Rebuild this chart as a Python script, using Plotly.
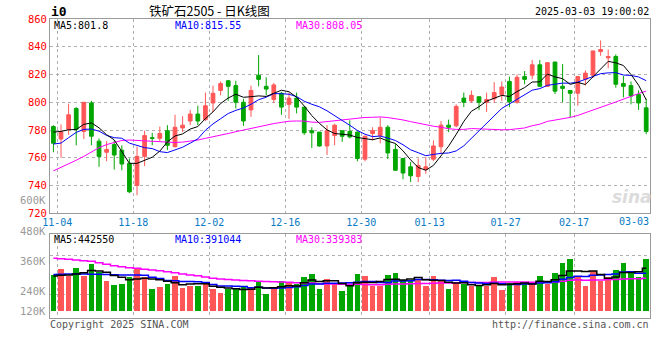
import plotly.graph_objects as go

# ---------------- data ----------------
dates = [
    "2024-11-04", "2024-11-05", "2024-11-06", "2024-11-07", "2024-11-08",
    "2024-11-11", "2024-11-12", "2024-11-13", "2024-11-14", "2024-11-15",
    "2024-11-18", "2024-11-19", "2024-11-20", "2024-11-21", "2024-11-22",
    "2024-11-25", "2024-11-26", "2024-11-27", "2024-11-28", "2024-11-29",
    "2024-12-02", "2024-12-03", "2024-12-04", "2024-12-05", "2024-12-06",
    "2024-12-09", "2024-12-10", "2024-12-11", "2024-12-12", "2024-12-13",
    "2024-12-16", "2024-12-17", "2024-12-18", "2024-12-19", "2024-12-20",
    "2024-12-23", "2024-12-24", "2024-12-25", "2024-12-26", "2024-12-27",
    "2024-12-30", "2024-12-31", "2025-01-02", "2025-01-03",
    "2025-01-06", "2025-01-07", "2025-01-08", "2025-01-09", "2025-01-10",
    "2025-01-13", "2025-01-14", "2025-01-15", "2025-01-16", "2025-01-17",
    "2025-01-20", "2025-01-21", "2025-01-22", "2025-01-23", "2025-01-24",
    "2025-01-27", "2025-02-05", "2025-02-06", "2025-02-07",
    "2025-02-10", "2025-02-11", "2025-02-12", "2025-02-13", "2025-02-14",
    "2025-02-17", "2025-02-18", "2025-02-19", "2025-02-20", "2025-02-21",
    "2025-02-24", "2025-02-25", "2025-02-26", "2025-02-27", "2025-02-28",
    "2025-03-03",
]

opens = [782.5, 773.5, 780.5, 795.5, 779, 799.5, 772, 764, 769.5, 765.5,
         756, 740, 761, 774.5, 774, 779.5, 768, 781.5, 786.5, 791.5,
         787.5, 799.5, 808.5, 815.5, 812, 800, 794.5, 819.5, 811.5, 802,
         806.5, 798.5, 803, 796.5, 779.5, 778.5, 768.5, 776, 779.5, 779,
         778.5, 759, 777.5, 776, 782, 766, 759.5, 753.5, 746.5, 751.5,
         759, 768, 783.5, 783, 803, 801, 804, 800, 802.5, 805.5,
         815, 800, 818.5, 819.5, 827, 811.5, 829, 811.5, 808.5, 806.5,
         816.5, 819.5, 836.5, 832, 833, 813.5, 812, 805.5, 796]
highs = [783.5, 784, 799, 796.5, 800, 801, 774, 772, 772.5, 769,
         759.5, 768, 779.5, 778, 782.5, 783.5, 791, 790, 794.5, 797.5,
         807, 812, 815, 816, 815.5, 802.5, 812, 834, 818, 814,
         807.5, 807, 807, 796.5, 782, 778.5, 783.5, 784.5, 779.5, 787,
         779, 776, 782, 789, 783.5, 770, 759.5, 757, 759.5, 760.5,
         772.5, 786.5, 787.5, 798.5, 807, 808.5, 804, 807, 814.5, 815,
         818.5, 820, 822.5, 830.5, 830.5, 829, 829, 827.5, 808.5, 818.5,
         823, 837, 844.5, 838, 834.5, 819, 815, 808.5, 802.5]
lows = [764, 760, 776.5, 769, 773.5, 769, 753.5, 757.5, 751.5, 751,
        734.5, 733, 754, 769, 772, 765.5, 767.5, 778.5, 783.5, 783.5,
        786.5, 793, 805, 801, 795.5, 783, 789.5, 811.5, 805, 799.5,
        791, 788, 792, 776.5, 767, 768, 762, 769, 771.5, 774,
        757.5, 757.5, 772.5, 770.5, 759, 750.5, 744.5, 742.5, 742.5, 748.5,
        757.5, 763.5, 778.5, 782, 796.5, 799.5, 794.5, 793, 799.5, 801,
        796.5, 799, 813, 816.5, 811, 811, 806, 800, 789, 797.5,
        812, 817.5, 833.5, 824.5, 810.5, 803.5, 798.5, 794.5, 777]
closes = [770.5, 778.5, 791, 780.5, 800, 775.5, 761, 766, 762, 755.5,
          735.5, 761, 776, 774, 777.5, 769, 782, 783.5, 791.5, 786.5,
          797.5, 806.5, 813.5, 811.5, 800, 786.5, 808.5, 816.5, 809.5, 812.5,
          796.5, 803, 796.5, 778, 778, 768.5, 779.5, 783.5, 775.5, 775,
          759.5, 775.5, 779.5, 782, 763.5, 751, 749, 747, 754.5, 753.5,
          768.5, 783.5, 782, 797, 800, 805, 800, 802, 807, 811,
          800.5, 818, 816.5, 827, 811.5, 828.5, 808, 810, 806.5, 818.5,
          821, 837, 838, 833, 813, 811.5, 804.5, 799.5, 779]

ma5 = [778.5, 779.0, 780.2, 780.4, 784.1, 785.1, 781.6, 776.6, 772.9, 764.0,
       756.0, 756.0, 758.0, 760.4, 764.8, 771.5, 775.7, 777.2, 780.7, 782.5,
       788.2, 793.1, 799.1, 803.1, 805.8, 803.6, 804.0, 804.6, 804.2, 806.7,
       808.7, 807.6, 803.6, 797.3, 790.4, 784.8, 780.1, 777.5, 777.0, 776.4,
       774.6, 773.8, 773.0, 774.3, 772.0, 770.3, 765.0, 758.5, 753.0, 751.0,
       754.5, 761.4, 768.4, 776.9, 786.2, 793.5, 796.8, 800.8, 802.8, 805.0,
       804.1, 807.7, 810.6, 814.6, 814.7, 820.3, 818.3, 817.0, 812.9, 814.3,
       812.8, 818.6, 824.2, 829.5, 828.4, 826.5, 820.0, 812.3, 801.8]
ma10 = [769.9, 770.6, 774.5, 778.3, 780.5, 780.7, 779.2, 776.1, 774.5, 774.05,
        770.55, 768.8, 767.3, 766.65, 764.4, 763.75, 765.85, 767.6, 770.55, 773.65,
        779.85, 784.4, 788.15, 791.9, 794.15, 795.9, 798.55, 801.85, 803.65, 806.25,
        806.15, 805.8, 804.1, 800.75, 798.55, 796.75, 793.85, 790.55, 787.15, 783.4,
        779.7, 776.95, 775.25, 775.65, 774.2, 772.45, 769.4, 765.75, 763.65, 761.5,
        762.4, 763.2, 763.45, 764.95, 768.6, 774.0, 779.1, 784.6, 789.85, 795.6,
        798.8, 802.25, 805.7, 808.7, 809.85, 812.2, 813.0, 813.8, 813.75, 814.5,
        816.55, 818.45, 820.6, 821.2, 821.35, 819.65, 819.3, 818.25, 815.55]
ma30 = [750.6, 753.0, 755.3, 758.2, 761.0, 764.4, 767.3, 769.5, 771.1, 772.5,
        772.8, 772.5, 772.0, 771.5, 771.2, 771.0, 771.0, 771.3, 771.8, 772.8,
        774.0, 775.0, 776.2, 777.5, 778.8, 780.0, 781.3, 782.5, 783.6, 784.65,
        785.52, 786.33, 786.52, 786.43, 785.7, 785.47, 786.08, 786.67, 787.12, 787.77,
        788.57, 789.05, 789.17, 789.43, 788.97, 788.37, 787.27, 786.05, 784.82, 783.72,
        782.75, 781.98, 780.93, 780.45, 780.45, 781.07, 780.78, 780.3, 780.22, 780.17,
        780.3, 780.8, 781.47, 783.1, 784.22, 786.22, 787.17, 788.05, 789.08, 790.53,
        792.58, 794.63, 796.58, 798.28, 800.2, 802.4, 804.4, 806.3, 808.05]

# volume (thousand lots)
vols = [372, 435, 365, 445, 365, 487, 403, 309, 268, 278,
        354, 442, 348, 226, 247, 278, 362, 237, 261, 261,
        286, 226, 184, 223, 223, 247, 237, 296, 174, 237,
        309, 286, 275, 351, 382, 226, 330, 278, 205, 261,
        382, 362, 257, 257, 372, 393, 320, 313, 330, 257,
        362, 309, 226, 286, 278, 257, 268, 257, 351, 216,
        286, 299, 286, 299, 362, 278, 393, 497, 539, 362,
        257, 414, 309, 351, 424, 497, 403, 351, 539]
vma5 = [362, 369, 372, 382,
        396.4, 419.4, 413.0, 401.8, 366.4, 349.0,
        322.4, 330.2, 338.0, 329.6, 323.4, 308.2, 292.2, 270.0, 277.0, 279.8,
        281.4, 254.2, 243.6, 236.0, 228.4, 220.6, 222.8, 245.2, 235.4, 238.2,
        250.6, 260.4, 256.2, 291.6, 320.6, 304.0, 312.8, 313.4, 284.2, 260.0,
        291.2, 297.6, 293.4, 303.8, 326.0, 328.2, 319.8, 331.0, 345.6, 322.6,
        316.4, 314.2, 296.8, 288.0, 292.2, 271.2, 263.0, 269.2, 282.2, 269.8,
        275.6, 281.8, 287.6, 277.2, 306.4, 304.8, 323.6, 365.8, 413.8, 413.8,
        409.6, 413.8, 376.2, 338.6, 351.0, 399.0, 396.8, 405.2, 442.55]
vma10 = [378, 381, 382, 382, 382, 380, 379, 377, 375,
         372.7, 370.9, 371.6, 369.9, 348.0, 336.2, 315.3, 311.2, 304.0, 303.3, 301.6,
         294.8, 273.2, 256.8, 256.5, 254.1, 251.0, 238.5, 244.4, 235.7, 233.3,
         235.6, 241.6, 250.7, 263.5, 279.4, 277.3, 286.6, 284.8, 287.9, 290.3,
         297.6, 305.2, 303.4, 294.0, 293.0, 309.7, 308.7, 312.2, 324.7, 324.3,
         322.3, 317.0, 313.9, 316.8, 307.4, 293.8, 288.6, 283.0, 285.1, 281.0,
         273.4, 272.4, 278.4, 279.7, 288.1, 290.2, 302.7, 326.7, 345.5, 360.1,
         357.2, 368.7, 371.0, 376.2, 382.4, 404.3, 405.3, 390.7, 391.04]
vma30 = [546, 542, 535, 528, 521, 514, 500, 483, 469, 458,
         448, 442, 431, 424, 417, 406, 396, 382, 372, 365,
         351, 338, 330, 325, 320, 316, 312, 308, 305, 302.5,
         300.4, 295.5, 292.5, 289.3, 289.9, 281.2, 278.8, 277.7, 275.6, 275.1,
         276.0, 273.3, 270.3, 271.3, 275.5, 279.3, 277.9, 280.5, 282.8, 282.6,
         285.2, 287.9, 289.3, 291.4, 293.3, 293.6, 294.6, 293.3, 299.2, 298.5,
         297.8, 298.2, 298.6, 296.8, 296.2, 297.9, 300.0, 307.3, 318.4, 321.8,
         317.6, 319.4, 321.1, 324.2, 326.0, 329.4, 332.2, 333.5, 339.38]

tick_dates = ["2024-11-04", "2024-11-18", "2024-12-02", "2024-12-16", "2024-12-30",
              "2025-01-13", "2025-01-27", "2025-02-17", "2025-03-03"]
tick_labels = ["11-04", "11-18", "12-02", "12-16", "12-30", "01-13", "01-27", "02-17", "03-03"]
price_ticks = [720, 740, 760, 780, 800, 820, 840, 860]
vol_tick_labels = ["600K", "480K", "360K", "240K", "120K"]

# ---------------- style ----------------
UP, DOWN = "#ff5757", "#00a600"
MONO = "DejaVu Sans Mono"
GRID = "#b0b0b0"
FRAME = "#9a9a9a"
XLAB = "#0a7ac4"
W, H = 660, 360
L, R, T, B = 50, 10, 19, 42

x = list(range(len(dates)))
tick_pos = [dates.index(d) + 0.5 for d in tick_dates]
bar_colors = [UP if c >= o else DOWN for o, c in zip(opens, closes)]


def fx(px):
    return (px - L) / (W - L - R)


def fy(py):
    return (H - B - py) / (H - T - B)


fig = go.Figure()
fig.add_trace(go.Candlestick(
    x=x, open=opens, high=highs, low=lows, close=closes,
    increasing=dict(line=dict(color=UP, width=1), fillcolor=UP),
    decreasing=dict(line=dict(color=DOWN, width=1), fillcolor=DOWN),
    xaxis="x", yaxis="y", showlegend=False, hoverinfo="skip"))
for series, col in [(ma30, "#ff00ff"), (ma10, "#0000ff"), (ma5, "#000000")]:
    fig.add_trace(go.Scatter(x=x, y=series, mode="lines", line=dict(color=col, width=1),
                             xaxis="x", yaxis="y", showlegend=False, hoverinfo="skip"))

fig.add_trace(go.Bar(x=x, y=vols, marker=dict(color=bar_colors, line=dict(width=0)),
                     width=0.74, xaxis="x2", yaxis="y2", showlegend=False, hoverinfo="skip"))
for series, col in [(vma30, "#ff00ff"), (vma10, "#0000ff"), (vma5, "#000000")]:
    fig.add_trace(go.Scatter(x=x, y=series, mode="lines", line=dict(color=col, width=1.5, shape="hvh"),
                             xaxis="x2", yaxis="y2", showlegend=False, hoverinfo="skip"))

common_x = dict(range=[-0.45, 78.5], tickmode="array", ticks="", showgrid=True,
                gridcolor=GRID, griddash="dot", gridwidth=1, showline=True, mirror=True,
                linecolor=FRAME, linewidth=1, zeroline=False, fixedrange=True)
common_y = dict(ticks="", showgrid=True, gridcolor=GRID, griddash="dot", gridwidth=1,
                showline=True, mirror=True, linecolor=FRAME, linewidth=1, zeroline=False,
                fixedrange=True)

fig.update_layout(
    width=W, height=H,
    margin=dict(l=L, r=R, t=T, b=B, pad=0),
    paper_bgcolor="white", plot_bgcolor="white",
    showlegend=False, bargap=0,
    xaxis=dict(domain=[0, 1], anchor="y", tickvals=tick_pos[:-1], ticktext=tick_labels[:-1],
               tickfont=dict(family=MONO, size=10, color=XLAB),
               rangeslider=dict(visible=False), **common_x),
    xaxis2=dict(domain=[0, 1], anchor="y2", tickvals=tick_pos, showticklabels=False,
                matches="x", **common_x),
    yaxis=dict(domain=[0.3502, 1], anchor="x", range=[720, 860], tickmode="array",
               tickvals=price_ticks, ticktext=[str(v) for v in price_ticks],
               tickfont=dict(family=MONO, size=10.5, color="#ff0000"), **common_y),
    yaxis2=dict(domain=[0, 0.2799], anchor="x2", range=[-76, 796], tickmode="array",
                tickvals=[163.6, 580.3], showticklabels=False, **common_y),
)


def ann(text, px, py, anchor="left", color="#000000", size=10, family=MONO, **kw):
    fig.add_annotation(text=text, x=fx(px), y=fy(py), xref="paper", yref="paper",
                       xanchor=anchor, yanchor="middle", showarrow=False, borderpad=0,
                       font=dict(family=family, size=size, color=color), **kw)


# header
ann("<b>i0</b>", 50, 11.5, size=13)
ann("铁矿石2505 - 日K线图", 209, 10.5, anchor="center", size=12.5, family="Noto Sans CJK SC")
ann("2025-03-03 19:00:02", 650, 11.5, anchor="right", size=10)
# MA legends
ann("MA5:801.8", 53, 25.5, color="#000000")
ann("MA10:815.55", 174, 25.5, color="#0000ff")
ann("MA30:808.05", 295, 25.5, color="#ff00ff")
ann("MA5:442550", 53, 239, color="#000000")
ann("MA10:391044", 174, 239, color="#0000ff")
ann("MA30:339383", 295, 239, color="#ff00ff")
# last x label, squeezed inside the frame
ann(tick_labels[-1], 650, 221, anchor="right", color=XLAB, size=10)
# volume scale labels
for lab, py in zip(vol_tick_labels, [200, 231, 261, 290.5, 310.5]):
    ann(lab, 47, py, anchor="right", color="#999999", size=10.5)
# footer
ann("Copyright 2025 SINA.COM", 49, 324, color="#555555", size=10)
ann("http://finance.sina.com.cn", 650, 324, anchor="right", color="#555555", size=10)
# watermark
ann("<i><b>sina</b></i>", 632, 197, anchor="center", color="#dcdcdc", size=17, family="DejaVu Sans")

fig.write_html(
    "out.html",
    config={"displayModeBar": False, "staticPlot": True},
    post_script="document.body.style.margin='0';document.body.style.overflow='hidden';",
)
